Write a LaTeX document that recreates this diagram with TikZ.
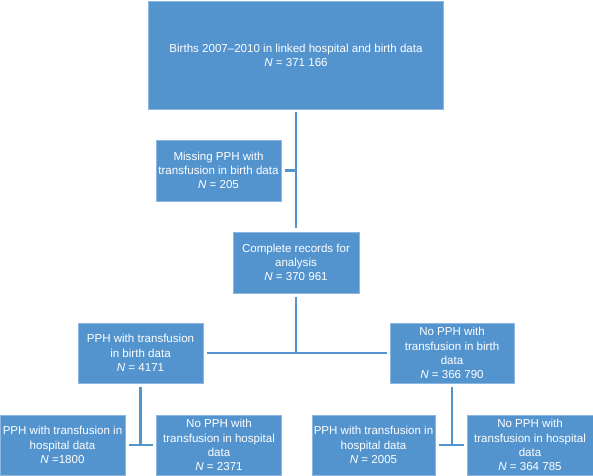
\documentclass[tikz,border=0pt]{standalone}
\usepackage{fontspec}
\setmainfont{Liberation Sans}
\usepackage{xcolor}
\definecolor{acc}{HTML}{5494CE}
\definecolor{edge}{HTML}{8DB7E0}
\usetikzlibrary{positioning,calc}
\tikzset{
  box/.style={draw=edge,fill=acc,line width=0.6bp,inner sep=1bp,outer sep=3.5bp,
    minimum width=125bp,minimum height=60bp,align=center,text=white,
    font=\fontsize{11.6}{14.3}\selectfont},
  arr/.style={draw=acc,line width=2.8bp},
}
\begin{document}
\begin{tikzpicture}[x=1bp,y=-1bp]
\useasboundingbox (0,0) rectangle (593,476);
% flow
\node[box,minimum width=295bp,minimum height=108bp] (all) at (296,55) {Births 2007--2010 in linked hospital and birth data\\\textit{N} = 371 166};
\node[box,minimum height=61bp] (miss) at (218.5,170.5) {Missing PPH with\\transfusion in birth data\\\textit{N} = 205};
\node[box,minimum width=126bp,minimum height=61bp] (comp) at (296,262.5) {Complete records for\\analysis\\\textit{N} = 370 961};
\node[box] (pph) at (140.5,353) {PPH with transfusion\\in birth data\\\textit{N} = 4171};
\node[box,minimum width=124bp] (nopph) at (452,353) {No PPH with\\transfusion in birth\\data\\\textit{N} = 366 790};
% hospital data
\node[box] (b1) at (62.5,445) {PPH with transfusion in\\hospital data\\\textit{N} =1800};
\node[box] (b2) at (219,445) {No PPH with\\transfusion in hospital\\data\\\textit{N} = 2371};
\node[box,minimum width=123bp] (b3) at (373.5,445) {PPH with transfusion in\\hospital data\\\textit{N} = 2005};
\node[box,minimum width=126bp] (b4) at (530,445) {No PPH with\\transfusion in hospital\\data\\\textit{N} = 364 785};
\draw[arr] (all) -- (comp);
\draw[arr] (miss.east) -- (miss.east -| all.south);
\draw[arr] (comp.south) -- (comp.south |- pph.east);
\draw[arr] (pph.east) -- (nopph.west);
\draw[arr] (pph.south) -- (pph.south |- b1.east);
\draw[arr] (b1.east) -- (b2.west);
\draw[arr] (nopph.south) -- (nopph.south |- b3.east);
\draw[arr] (b3.east) -- (b4.west);
\end{tikzpicture}
\end{document}
